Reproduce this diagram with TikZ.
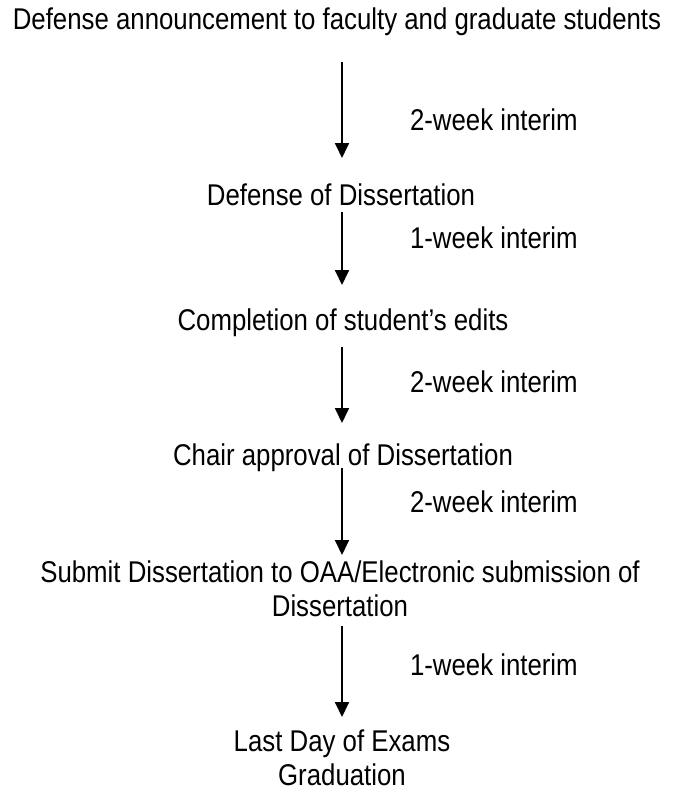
\documentclass[tikz,border=0pt]{standalone}
\usepackage{fontspec}
\setmainfont[FakeStretch=0.86]{Liberation Sans}
\usetikzlibrary{arrows.meta,calc}
\begin{document}
\begin{tikzpicture}[x=1pt,y=-1pt,
  every node/.style={inner sep=0pt,outer sep=0pt,font=\fontsize{30}{34}\selectfont},
  stage/.style={anchor=base,align=center},
  gap/.style={anchor=base west},
  arr/.style={-{Triangle[length=15pt,width=14pt]},line width=1.8pt}]
\useasboundingbox[fill=white] (0,0) rectangle (673,796);
\coordinate (ax) at (342,0);
\node[stage] (s0) at (337,29) {Defense announcement to faculty and graduate students};
\node[stage] (s1) at (341,205) {Defense of Dissertation};
\node[stage] (s2) at (343,330) {Completion of student’s edits};
\node[stage] (s3) at (343,465) {Chair approval of Dissertation};
\node[stage] (s4) at (340,616) {Submit Dissertation to OAA/Electronic submission of\\Dissertation};
\node[stage] (s5) at (342,785) {Last Day of Exams\\Graduation};
\node[gap] (g1) at (410,130) {2-week interim};
\node[gap] (g2) at (410,248) {1-week interim};
\node[gap] (g3) at (410,392) {2-week interim};
\node[gap] (g4) at (410,512) {2-week interim};
\node[gap] (g5) at (410,675) {1-week interim};
\draw[arr] ($(s0.base -| ax)+(0,33)$) -- ($(s1.base -| ax)+(0,-47)$);
\draw[arr] ($(s1.base -| ax)+(0,7)$) -- ($(s2.base -| ax)+(0,-45)$);
\draw[arr] ($(s2.base -| ax)+(0,17)$) -- ($(s3.base -| ax)+(0,-42)$);
\draw[arr] ($(s3.base -| ax)+(0,3)$) -- ($(s4.base -| ax)+(0,-61)$);
\draw[arr] ($(s4.base -| ax)+(0,10)$) -- ($(s5.base -| ax)+(0,-68)$);
\end{tikzpicture}
\end{document}
